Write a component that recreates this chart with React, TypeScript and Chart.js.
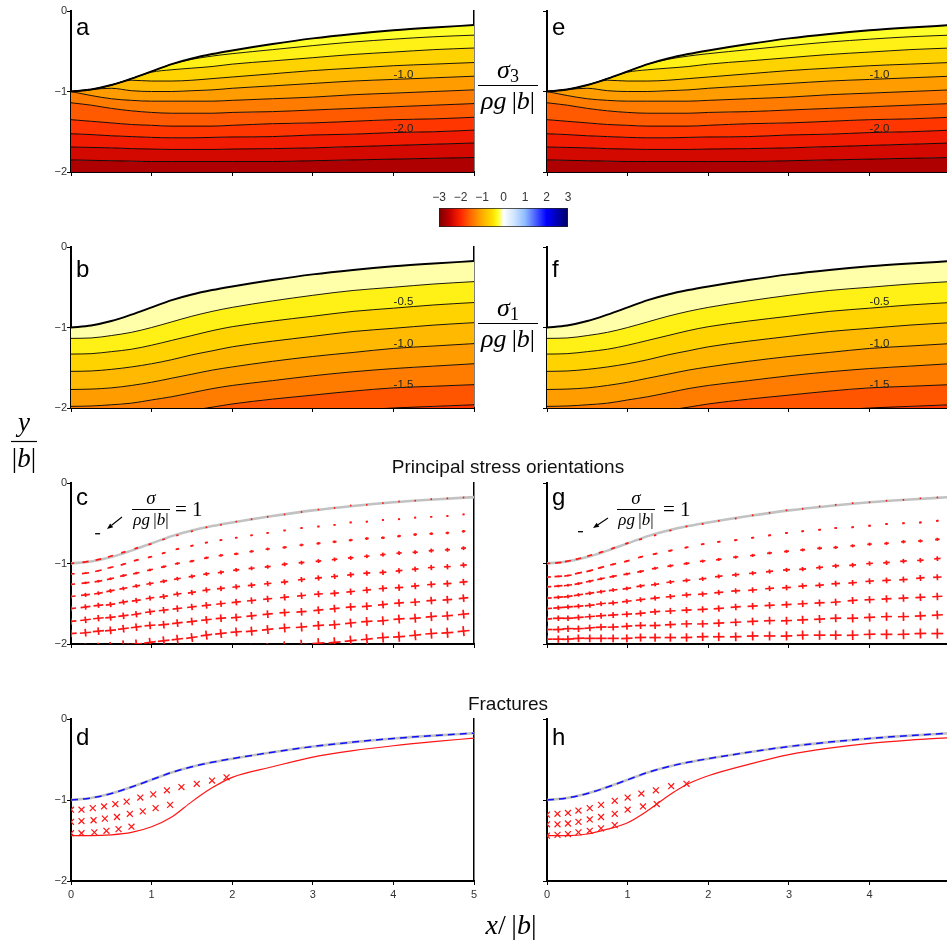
import React, { useEffect, useRef } from 'react';
import { Chart, registerables } from 'chart.js';

Chart.register(...registerables);

const SANS = '"Liberation Sans", Arial, Helvetica, sans-serif';
const SERIF = '"Liberation Serif", "Times New Roman", serif';
Chart.defaults.font.family = SANS;

// ================= DATA =================
// x sample points (x/|b|) and free surface y/|b|
const X_KNOTS = [0, 0.25, 0.5, 0.75, 1, 1.25, 1.5, 1.75, 2, 2.5, 3, 3.5, 4, 4.5, 5];
const SURFACE = [-1.0, -0.975, -0.92, -0.84, -0.75, -0.66, -0.59, -0.535, -0.49, -0.41, -0.34, -0.285, -0.24, -0.205, -0.175];

// sigma3/(rho g |b|) contour lines (panels a, e), bottom -> top, levels -2.5 ... -0.25
const SIG3_M250 = [-1.85, -1.855, -1.86, -1.865, -1.87, -1.87, -1.87, -1.87, -1.87, -1.87, -1.86, -1.85, -1.84, -1.83, -1.82];
const SIG3_M225 = [-1.69, -1.695, -1.7, -1.71, -1.715, -1.72, -1.72, -1.72, -1.715, -1.71, -1.7, -1.685, -1.67, -1.655, -1.64];
const SIG3_M200 = [-1.525, -1.535, -1.55, -1.56, -1.57, -1.575, -1.575, -1.57, -1.565, -1.56, -1.54, -1.53, -1.51, -1.5, -1.48];
const SIG3_M175 = [-1.35, -1.37, -1.39, -1.41, -1.42, -1.43, -1.43, -1.43, -1.42, -1.4, -1.39, -1.37, -1.35, -1.34, -1.32];
const SIG3_M150 = [-1.14, -1.17, -1.21, -1.24, -1.26, -1.27, -1.27, -1.27, -1.26, -1.25, -1.23, -1.21, -1.19, -1.17, -1.15];
const SIG3_M125 = [-1.0, -1.05, -1.09, -1.11, -1.12, -1.12, -1.12, -1.12, -1.11, -1.09, -1.07, -1.04, -1.02, -1.0, -0.98];
const SIG3_M100 = [-1.0, -0.975, -0.96, -0.99, -1.0, -1.0, -0.99, -0.98, -0.96, -0.93, -0.9, -0.87, -0.85, -0.83, -0.81];
const SIG3_M075 = [-1.0, -0.975, -0.92, -0.86, -0.87, -0.87, -0.86, -0.84, -0.82, -0.78, -0.74, -0.71, -0.68, -0.66, -0.64];
const SIG3_M050 = [-1.0, -0.975, -0.92, -0.84, -0.76, -0.73, -0.71, -0.69, -0.66, -0.62, -0.58, -0.54, -0.51, -0.48, -0.46];
const SIG3_M025 = [-1.0, -0.975, -0.92, -0.84, -0.75, -0.66, -0.6, -0.56, -0.53, -0.48, -0.43, -0.385, -0.35, -0.32, -0.3];
const SIG3_BANDS = [-2.65, -2.375, -2.125, -1.875, -1.625, -1.375, -1.125, -0.875, -0.625, -0.375, -0.25];

// sigma1/(rho g |b|) contour lines (panels b, f), bottom -> top, levels -1.75 ... -0.25
const SIG1_M175 = [-2.42, -2.42, -2.4, -2.38, -2.35, -2.31, -2.27, -2.23, -2.19, -2.13, -2.08, -2.03, -2.0, -1.98, -1.96];
const SIG1_M150 = [-2.2, -2.2, -2.18, -2.15, -2.12, -2.08, -2.03, -1.99, -1.95, -1.89, -1.84, -1.79, -1.75, -1.73, -1.71];
const SIG1_M125 = [-1.98, -1.975, -1.96, -1.94, -1.9, -1.86, -1.81, -1.76, -1.72, -1.66, -1.6, -1.55, -1.51, -1.48, -1.45];
const SIG1_M100 = [-1.77, -1.765, -1.75, -1.72, -1.68, -1.63, -1.58, -1.53, -1.49, -1.42, -1.36, -1.31, -1.26, -1.23, -1.2];
const SIG1_M075 = [-1.545, -1.54, -1.52, -1.49, -1.45, -1.4, -1.34, -1.29, -1.24, -1.17, -1.11, -1.05, -1.01, -0.97, -0.94];
const SIG1_M050 = [-1.33, -1.325, -1.3, -1.27, -1.22, -1.16, -1.1, -1.04, -0.99, -0.92, -0.86, -0.8, -0.76, -0.72, -0.69];
const SIG1_M025 = [-1.135, -1.13, -1.1, -1.06, -1.0, -0.93, -0.86, -0.8, -0.75, -0.67, -0.6, -0.54, -0.5, -0.46, -0.43];
const SIG1_BANDS = [-1.9, -1.66, -1.375, -1.125, -0.875, -0.625, -0.375, -0.1];

// principal stress crosses, panel c: columns, surface row, mesh rows, |sigma3|, |sigma1|
const COLS_C = [0, 0.18, 0.34, 0.49, 0.65, 0.81, 0.98, 1.15, 1.32, 1.5, 1.68, 1.86, 2.05, 2.24, 2.44, 2.65, 2.86, 3.07, 3.27, 3.47, 3.67, 3.87, 4.07, 4.27, 4.47, 4.67, 4.87];
const SURF_C = [-1, -0.98, -0.95, -0.91, -0.86, -0.81, -0.76, -0.7, -0.65, -0.6, -0.55, -0.52, -0.48, -0.45, -0.42, -0.39, -0.36, -0.33, -0.31, -0.28, -0.27, -0.25, -0.23, -0.22, -0.2, -0.19, -0.18];
const ROWS_C = [
  [-1.13, -1.12, -1.09, -1.05, -1.01, -0.96, -0.92, -0.87, -0.82, -0.78, -0.74, -0.71, -0.68, -0.65, -0.62, -0.59, -0.56, -0.54, -0.52, -0.49, -0.48, -0.46, -0.45, -0.43, -0.42, -0.41, -0.39],
  [-1.26, -1.24, -1.22, -1.19, -1.15, -1.12, -1.08, -1.04, -1.0, -0.97, -0.93, -0.9, -0.88, -0.85, -0.82, -0.8, -0.77, -0.75, -0.73, -0.71, -0.69, -0.68, -0.66, -0.64, -0.63, -0.62, -0.6],
  [-1.41, -1.39, -1.37, -1.34, -1.31, -1.28, -1.25, -1.22, -1.19, -1.16, -1.13, -1.11, -1.08, -1.06, -1.04, -1.01, -0.99, -0.97, -0.95, -0.93, -0.91, -0.89, -0.87, -0.86, -0.84, -0.83, -0.81],
  [-1.56, -1.54, -1.52, -1.51, -1.48, -1.46, -1.43, -1.41, -1.38, -1.36, -1.33, -1.31, -1.29, -1.27, -1.25, -1.23, -1.2, -1.18, -1.16, -1.14, -1.12, -1.11, -1.09, -1.07, -1.05, -1.04, -1.02],
  [-1.72, -1.7, -1.68, -1.67, -1.65, -1.63, -1.6, -1.58, -1.56, -1.54, -1.52, -1.5, -1.48, -1.46, -1.44, -1.42, -1.4, -1.38, -1.37, -1.35, -1.33, -1.31, -1.3, -1.28, -1.26, -1.25, -1.23],
  [-1.87, -1.86, -1.84, -1.83, -1.81, -1.79, -1.77, -1.76, -1.74, -1.72, -1.7, -1.68, -1.67, -1.65, -1.63, -1.61, -1.6, -1.58, -1.56, -1.54, -1.53, -1.51, -1.49, -1.48, -1.46, -1.45, -1.43],
  [-2.06, -2.05, -2.04, -2.03, -2.01, -2.0, -1.98, -1.96, -1.94, -1.92, -1.89, -1.87, -1.85, -1.84, -1.82, -1.8, -1.79, -1.77, -1.76, -1.74, -1.72, -1.71, -1.69, -1.68, -1.66, -1.65, -1.63],
  [-2.25, -2.24, -2.23, -2.22, -2.21, -2.2, -2.18, -2.17, -2.15, -2.13, -2.11, -2.09, -2.08, -2.06, -2.05, -2.03, -2.01, -1.99, -1.98, -1.96, -1.94, -1.92, -1.91, -1.89, -1.87, -1.86, -1.84],
];
const SIG3_C = [
  [1.3, 1.24, 1.14, 1.03, 0.89, 0.76, 0.64, 0.53, 0.45, 0.4, 0.36, 0.34, 0.32, 0.31, 0.3, 0.3, 0.3, 0.3, 0.3, 0.3, 0.3, 0.3, 0.3, 0.3, 0.3, 0.3, 0.3],
  [1.48, 1.43, 1.34, 1.24, 1.12, 1.01, 0.9, 0.8, 0.73, 0.66, 0.61, 0.57, 0.53, 0.5, 0.48, 0.46, 0.45, 0.44, 0.43, 0.42, 0.42, 0.41, 0.41, 0.4, 0.4, 0.39, 0.39],
  [1.64, 1.6, 1.53, 1.45, 1.36, 1.27, 1.18, 1.1, 1.04, 0.99, 0.95, 0.92, 0.89, 0.87, 0.86, 0.84, 0.82, 0.8, 0.78, 0.77, 0.76, 0.75, 0.74, 0.73, 0.72, 0.71, 0.7],
  [1.82, 1.79, 1.74, 1.68, 1.61, 1.54, 1.47, 1.41, 1.36, 1.32, 1.28, 1.25, 1.23, 1.21, 1.19, 1.17, 1.15, 1.13, 1.11, 1.09, 1.08, 1.06, 1.05, 1.04, 1.02, 1.01, 1.0],
  [2.0, 1.97, 1.94, 1.9, 1.85, 1.8, 1.75, 1.7, 1.66, 1.62, 1.59, 1.56, 1.53, 1.51, 1.49, 1.47, 1.45, 1.43, 1.41, 1.4, 1.38, 1.37, 1.35, 1.34, 1.33, 1.32, 1.31],
  [2.15, 2.13, 2.11, 2.09, 2.06, 2.03, 2.0, 1.97, 1.94, 1.92, 1.9, 1.88, 1.86, 1.84, 1.82, 1.8, 1.78, 1.76, 1.74, 1.72, 1.7, 1.69, 1.67, 1.66, 1.65, 1.63, 1.62],
  [2.25, 2.24, 2.23, 2.22, 2.2, 2.19, 2.17, 2.16, 2.14, 2.13, 2.11, 2.1, 2.08, 2.07, 2.05, 2.04, 2.03, 2.02, 2.01, 2.0, 1.99, 1.98, 1.97, 1.95, 1.94, 1.93, 1.92],
  [2.35, 2.35, 2.34, 2.34, 2.33, 2.33, 2.32, 2.32, 2.31, 2.31, 2.3, 2.3, 2.29, 2.29, 2.28, 2.28, 2.27, 2.27, 2.26, 2.26, 2.25, 2.25, 2.24, 2.24, 2.23, 2.23, 2.22],
  [2.45, 2.45, 2.45, 2.45, 2.45, 2.44, 2.44, 2.44, 2.44, 2.44, 2.43, 2.43, 2.43, 2.43, 2.42, 2.42, 2.42, 2.42, 2.41, 2.41, 2.41, 2.4, 2.4, 2.4, 2.4, 2.39, 2.39],
];
const SIG1_C = [0, 0.3, 0.52, 0.78, 1.04, 1.29, 1.53, 1.79, 2.04];

// principal stress crosses, panel g
const COLS_G = [0, 0.14, 0.26, 0.39, 0.53, 0.67, 0.82, 0.99, 1.16, 1.34, 1.53, 1.73, 1.93, 2.13, 2.34, 2.55, 2.76, 2.97, 3.17, 3.38, 3.58, 3.79, 4.0, 4.21, 4.42, 4.63, 4.84];
const SURF_G = [-1, -0.99, -0.97, -0.94, -0.9, -0.86, -0.81, -0.75, -0.7, -0.65, -0.59, -0.54, -0.51, -0.47, -0.44, -0.4, -0.37, -0.34, -0.32, -0.29, -0.27, -0.25, -0.24, -0.22, -0.21, -0.19, -0.18];
const ROWS_G = [
  [-1.17, -1.16, -1.15, -1.12, -1.09, -1.05, -1.01, -0.97, -0.92, -0.88, -0.84, -0.8, -0.76, -0.73, -0.71, -0.68, -0.65, -0.62, -0.6, -0.58, -0.56, -0.55, -0.53, -0.51, -0.5, -0.49, -0.47],
  [-1.29, -1.28, -1.27, -1.25, -1.22, -1.19, -1.16, -1.13, -1.1, -1.06, -1.03, -1.0, -0.97, -0.95, -0.92, -0.9, -0.87, -0.85, -0.83, -0.81, -0.8, -0.78, -0.76, -0.75, -0.73, -0.72, -0.7],
  [-1.43, -1.42, -1.41, -1.39, -1.37, -1.35, -1.33, -1.31, -1.28, -1.26, -1.23, -1.21, -1.19, -1.16, -1.14, -1.12, -1.1, -1.08, -1.07, -1.05, -1.03, -1.02, -1.0, -0.99, -0.97, -0.96, -0.94],
  [-1.56, -1.55, -1.54, -1.53, -1.52, -1.5, -1.49, -1.47, -1.45, -1.43, -1.41, -1.39, -1.38, -1.36, -1.34, -1.33, -1.31, -1.3, -1.28, -1.27, -1.25, -1.24, -1.22, -1.21, -1.2, -1.18, -1.17],
  [-1.69, -1.68, -1.68, -1.67, -1.66, -1.65, -1.64, -1.63, -1.62, -1.6, -1.59, -1.58, -1.57, -1.56, -1.54, -1.53, -1.52, -1.51, -1.5, -1.49, -1.48, -1.46, -1.45, -1.44, -1.43, -1.42, -1.41],
  [-1.82, -1.82, -1.81, -1.81, -1.8, -1.79, -1.79, -1.78, -1.77, -1.77, -1.76, -1.75, -1.75, -1.74, -1.73, -1.72, -1.71, -1.71, -1.7, -1.69, -1.68, -1.68, -1.67, -1.66, -1.66, -1.65, -1.64],
  [-1.94, -1.94, -1.94, -1.93, -1.93, -1.93, -1.93, -1.93, -1.92, -1.92, -1.92, -1.92, -1.91, -1.91, -1.91, -1.9, -1.9, -1.9, -1.89, -1.89, -1.89, -1.89, -1.88, -1.88, -1.88, -1.87, -1.87],
];
const SIG3_G = [
  [1.3, 1.26, 1.2, 1.12, 1.02, 0.92, 0.81, 0.7, 0.6, 0.5, 0.44, 0.4, 0.36, 0.34, 0.32, 0.31, 0.3, 0.3, 0.3, 0.3, 0.3, 0.3, 0.3, 0.3, 0.3, 0.3, 0.3],
  [1.55, 1.52, 1.48, 1.43, 1.37, 1.3, 1.22, 1.13, 1.04, 0.95, 0.87, 0.8, 0.74, 0.69, 0.65, 0.62, 0.59, 0.57, 0.55, 0.54, 0.53, 0.52, 0.52, 0.51, 0.51, 0.5, 0.5],
  [1.7, 1.68, 1.65, 1.61, 1.57, 1.52, 1.46, 1.4, 1.34, 1.28, 1.22, 1.17, 1.12, 1.08, 1.05, 1.02, 1.0, 0.98, 0.96, 0.95, 0.94, 0.93, 0.92, 0.91, 0.91, 0.9, 0.9],
  [1.88, 1.87, 1.85, 1.83, 1.8, 1.77, 1.74, 1.7, 1.66, 1.62, 1.58, 1.54, 1.51, 1.48, 1.45, 1.43, 1.41, 1.39, 1.37, 1.36, 1.35, 1.34, 1.33, 1.32, 1.31, 1.3, 1.3],
  [2.0, 1.99, 1.98, 1.97, 1.96, 1.95, 1.93, 1.92, 1.9, 1.88, 1.86, 1.84, 1.82, 1.8, 1.79, 1.77, 1.76, 1.75, 1.74, 1.73, 1.72, 1.71, 1.7, 1.7, 1.69, 1.69, 1.68],
  [2.1, 2.1, 2.09, 2.09, 2.08, 2.08, 2.07, 2.07, 2.06, 2.06, 2.05, 2.05, 2.04, 2.04, 2.03, 2.03, 2.03, 2.02, 2.02, 2.02, 2.01, 2.01, 2.01, 2.0, 2.0, 2.0, 2.0],
  [2.18, 2.18, 2.18, 2.18, 2.18, 2.18, 2.18, 2.18, 2.18, 2.19, 2.19, 2.19, 2.19, 2.19, 2.19, 2.2, 2.2, 2.2, 2.2, 2.2, 2.2, 2.21, 2.21, 2.21, 2.21, 2.21, 2.22],
  [2.25, 2.25, 2.25, 2.26, 2.26, 2.26, 2.27, 2.27, 2.28, 2.28, 2.29, 2.29, 2.3, 2.3, 2.31, 2.31, 2.32, 2.32, 2.33, 2.33, 2.34, 2.34, 2.35, 2.35, 2.36, 2.36, 2.37],
];
const SIG1_G = [
  0,
  0.36,
  [0.54, 0.54, 0.54, 0.55, 0.55, 0.55, 0.56, 0.56, 0.56, 0.58, 0.58, 0.58, 0.59, 0.59, 0.59, 0.6, 0.6, 0.6, 0.61, 0.61, 0.61, 0.62, 0.62, 0.62, 0.64, 0.64, 0.64],
  [0.72, 0.73, 0.73, 0.74, 0.76, 0.76, 0.77, 0.78, 0.78, 0.79, 0.8, 0.8, 0.82, 0.83, 0.83, 0.84, 0.85, 0.85, 0.86, 0.88, 0.88, 0.89, 0.9, 0.9, 0.91, 0.92, 0.92],
  [0.9, 0.91, 0.92, 0.94, 0.95, 0.96, 0.97, 0.98, 1.0, 1.01, 1.02, 1.03, 1.04, 1.06, 1.06, 1.07, 1.08, 1.09, 1.1, 1.12, 1.13, 1.14, 1.15, 1.16, 1.18, 1.19, 1.2],
  [1.08, 1.09, 1.12, 1.13, 1.14, 1.16, 1.18, 1.19, 1.2, 1.22, 1.24, 1.25, 1.27, 1.28, 1.3, 1.31, 1.33, 1.34, 1.36, 1.38, 1.39, 1.4, 1.43, 1.44, 1.45, 1.48, 1.49],
  [1.26, 1.28, 1.3, 1.32, 1.33, 1.36, 1.38, 1.39, 1.42, 1.44, 1.45, 1.48, 1.49, 1.51, 1.54, 1.55, 1.57, 1.6, 1.61, 1.63, 1.64, 1.67, 1.69, 1.7, 1.73, 1.74, 1.76],
  [1.44, 1.46, 1.49, 1.51, 1.54, 1.56, 1.58, 1.6, 1.62, 1.64, 1.67, 1.69, 1.72, 1.74, 1.76, 1.79, 1.81, 1.84, 1.86, 1.88, 1.9, 1.92, 1.94, 1.97, 1.99, 2.02, 2.04],
];
// reference stress for the legend dash: sigma/(rho g |b|) = 1
const LEGEND_SIGMA = 1;

// fractures: lower limit of the fracture zone (d, h) and fracture marks
const FRAC_LIMIT_D = [-1.44, -1.44, -1.43, -1.4, -1.33, -1.21, -1.02, -0.85, -0.72, -0.59, -0.47, -0.39, -0.33, -0.28, -0.235];
const FRAC_LIMIT_H = [-1.44, -1.44, -1.42, -1.36, -1.28, -1.13, -0.95, -0.8, -0.7, -0.56, -0.44, -0.36, -0.3, -0.26, -0.23];
const FRAC_D_ROW1 = [[0, -1.12], [0.13, -1.12], [0.27, -1.1], [0.41, -1.08], [0.55, -1.05], [0.69, -1.02], [0.86, -0.97], [1.02, -0.93], [1.19, -0.88], [1.37, -0.84], [1.56, -0.8], [1.75, -0.76], [1.93, -0.72]];
const FRAC_D_ROW2 = [[0, -1.27], [0.13, -1.26], [0.28, -1.25], [0.42, -1.23], [0.57, -1.21], [0.73, -1.17], [0.89, -1.14], [1.05, -1.1], [1.23, -1.06]];
const FRAC_D_ROW3 = [[0, -1.41], [0.13, -1.41], [0.29, -1.4], [0.44, -1.38], [0.59, -1.36], [0.75, -1.33]];
const FRAC_H_ROW1 = [[0, -1.18], [0.13, -1.17], [0.26, -1.16], [0.39, -1.13], [0.53, -1.1], [0.67, -1.06], [0.84, -1.01], [1.0, -0.97], [1.17, -0.92], [1.35, -0.88], [1.54, -0.83], [1.73, -0.8]];
const FRAC_H_ROW2 = [[0, -1.3], [0.13, -1.3], [0.26, -1.29], [0.39, -1.27], [0.53, -1.24], [0.67, -1.21], [0.84, -1.17], [1.0, -1.12], [1.19, -1.08], [1.36, -1.05]];
const FRAC_H_ROW3 = [[0, -1.44], [0.13, -1.43], [0.26, -1.42], [0.39, -1.4], [0.53, -1.38], [0.67, -1.35], [0.84, -1.31]];

// colour bar
const CB_TICKS = [-3, -2, -1, 0, 1, 2, 3];

// ================= STYLE =================
const CMAP_V = [-3, -2.5, -2, -1.5, -1, -0.5, -0.25, 0, 0.5, 1, 2, 3];
const CMAP_C = ['#7a0000', '#c40000', '#ff2400', '#ff6c00', '#ffac00', '#ffe000', '#ffff2a', '#ffffff', '#cfe5ff', '#8fbcff', '#0000ff', '#000066'];
const CROSS_PX = 5; // px per unit of sigma/(rho g |b|)
const RED = '#ff1414';

function hexToRgb(h: string) {
  const n = parseInt(h.slice(1), 16);
  return [(n >> 16) & 255, (n >> 8) & 255, n & 255];
}
function colorAt(v: number) {
  const cs = CMAP_C.map(hexToRgb);
  if (v <= CMAP_V[0]) return CMAP_C[0];
  for (let i = 0; i < CMAP_V.length - 1; i++) {
    if (v <= CMAP_V[i + 1]) {
      const t = (v - CMAP_V[i]) / (CMAP_V[i + 1] - CMAP_V[i]);
      const c = cs[i].map((a, k) => Math.round(a + (cs[i + 1][k] - a) * t));
      return `rgb(${c[0]},${c[1]},${c[2]})`;
    }
  }
  return CMAP_C[CMAP_C.length - 1];
}
const minusFmt = (v: number) => (v < 0 ? '\u2212' + Math.abs(v) : String(v));

const knotData = (ys: number[]) => X_KNOTS.map((x, i) => ({ x, y: ys[i] }));

function fieldDatasets(levels: number[][], bands: number[]) {
  const lines = [...levels, SURFACE];
  return lines.map((ys, i) => ({
    data: knotData(ys),
    borderColor: '#000',
    borderWidth: i === lines.length - 1 ? 2 : 0.9,
    pointRadius: 0,
    cubicInterpolationMode: 'monotone',
    fill: i === 0 ? 'start' : '-1',
    backgroundColor: colorAt(bands[i]),
  }));
}

function pointDs(data: any[], color: string, width = 1.7) {
  return {
    data,
    showLine: false,
    pointStyle: 'line',
    pointRadius: (c: any) => (c.raw ? c.raw.r : 0),
    pointRotation: (c: any) => (c.raw ? c.raw.rot : 0),
    pointBorderColor: color,
    pointBackgroundColor: color,
    pointBorderWidth: width,
    borderWidth: 0,
    fill: false,
  };
}

function crossDatasets(cols: number[], rows: number[][], sig3: number[][], sig1: any[]) {
  const out: any[] = [];
  rows.forEach((ys, r) => {
    const along: any[] = [];
    const across: any[] = [];
    cols.forEach((x, c) => {
      const c0 = Math.max(0, c - 1);
      const c1 = Math.min(cols.length - 1, c + 1);
      const ang = (Math.atan2(ys[c1] - ys[c0], cols[c1] - cols[c0]) * 180) / Math.PI;
      const s1 = Array.isArray(sig1[r]) ? sig1[r][c] : sig1[r];
      along.push({ x, y: ys[c], r: (sig3[r][c] * CROSS_PX) / 2, rot: -ang });
      across.push({ x, y: ys[c], r: (s1 * CROSS_PX) / 2, rot: 90 - ang });
    });
    out.push(pointDs(along, RED), pointDs(across, RED));
  });
  return out;
}

const graySurface = () => ({
  data: knotData(SURFACE), borderColor: '#c2c2c2', borderWidth: 2.6, pointRadius: 0,
  cubicInterpolationMode: 'monotone', fill: false,
});

function stressDatasets(cols: number[], surf: number[], rows: number[][], sig3: number[][], sig1: any[], lx: number, ly: number) {
  return [
    ...crossDatasets(cols, [surf, ...rows], sig3, sig1),
    { ...pointDs([{ x: lx, y: ly, r: (LEGEND_SIGMA * CROSS_PX) / 2, rot: 0 }], '#000', 1.3), clip: false },
    graySurface(),
  ];
}

function fractureDatasets(limit: number[], rowsXY: number[][][]) {
  return [
    ...rowsXY.map((row) => ({
      data: row.map(([x, y]) => ({ x, y })),
      showLine: false, pointStyle: 'crossRot', pointRadius: 4.2, pointBorderColor: RED,
      pointBorderWidth: 1.2, borderWidth: 0, fill: false,
    })),
    { data: knotData(limit), borderColor: RED, borderWidth: 1.2, pointRadius: 0, cubicInterpolationMode: 'monotone', fill: false },
    { data: knotData(SURFACE), borderColor: '#1010ff', borderWidth: 1.5, borderDash: [7, 5], pointRadius: 0, cubicInterpolationMode: 'monotone', fill: false },
    graySurface(),
  ];
}

// ================= LAYOUT =================
const YW = 40;
const PT = 8;
const PR = 8;
const COLS = [
  { plotLeft: 71, plotW: 403, xMax: 5, yLabels: true, rightBorder: true },
  { plotLeft: 547, plotW: 400, xMax: 4.96, yLabels: false, rightBorder: false },
];
const ROW_TOP = [11, 247, 483, 719];
const ROW_H = [161, 161, 161, 162];

function panelConfig(col: any, row: number, datasets: any[]) {
  const xLabels = row === 3;
  const grid = { display: true, drawOnChartArea: false, drawTicks: true, tickLength: 4, color: '#000', lineWidth: 1 };
  const border = { display: true, color: '#000', width: 2 };
  const font = { family: SANS, size: 11 };
  const scales: any = {
    x: {
      type: 'linear', min: 0, max: col.xMax, position: 'bottom',
      ticks: { stepSize: 1, includeBounds: false, display: xLabels, font, color: '#333', padding: 3, maxRotation: 0, autoSkip: false },
      grid, border,
      afterFit: (s: any) => { s.height = xLabels ? 26 : 10; },
    },
    y: {
      type: 'linear', min: -2, max: 0, position: 'left',
      ticks: { stepSize: 1, includeBounds: false, display: col.yLabels, font, color: '#333', padding: 0, callback: (v: any) => minusFmt(Number(v)) },
      grid, border,
      afterFit: (s: any) => { s.width = YW; },
    },
  };
  if (col.rightBorder) {
    scales.y2 = {
      type: 'linear', min: -2, max: 0, position: 'right',
      ticks: { display: false }, grid: { display: false },
      border: { display: true, color: '#000', width: 1.5 },
      afterFit: (s: any) => { s.width = 0; },
    };
  }
  return {
    type: 'line',
    data: { datasets },
    options: {
      responsive: false, animation: false, events: [], devicePixelRatio: 1,
      layout: { padding: { top: PT, right: PR, left: 0, bottom: 0 } },
      plugins: { legend: { display: false }, tooltip: { enabled: false }, filler: { drawTime: 'beforeDatasetsDraw' } },
      scales,
    },
  };
}

function ChartBox({ left, top, width, height, make }: any) {
  const ref = useRef<HTMLCanvasElement>(null);
  useEffect(() => {
    const chart = new Chart(ref.current as HTMLCanvasElement, make());
    return () => chart.destroy();
  }, []);
  return <canvas ref={ref} width={width} height={height} style={{ position: 'absolute', left, top, width, height }} />;
}

function Panel({ c, r, make }: any) {
  const col = COLS[c];
  const hx = r === 3 ? 26 : 10;
  return (
    <ChartBox
      left={col.plotLeft - YW}
      top={ROW_TOP[r] - PT}
      width={YW + col.plotW + PR}
      height={PT + ROW_H[r] + hx}
      make={() => panelConfig(col, r, make(c))}
    />
  );
}

function colorbarConfig() {
  return {
    type: 'bar',
    data: {
      labels: ['cb'],
      datasets: [{
        data: [[CB_TICKS[0], CB_TICKS[CB_TICKS.length - 1]]],
        backgroundColor: (ctx: any) => {
          const ca = ctx.chart.chartArea;
          if (!ca) return 'transparent';
          const g = ctx.chart.ctx.createLinearGradient(ca.left, 0, ca.right, 0);
          CMAP_V.forEach((v, i) => g.addColorStop((v - CMAP_V[0]) / (CMAP_V[CMAP_V.length - 1] - CMAP_V[0]), CMAP_C[i]));
          return g;
        },
        borderColor: '#222', borderWidth: 1, borderSkipped: false, barPercentage: 1, categoryPercentage: 1,
      }],
    },
    options: {
      indexAxis: 'y', responsive: false, animation: false, events: [], devicePixelRatio: 1,
      layout: { padding: { left: 14, right: 17, top: 0, bottom: 3 } },
      plugins: { legend: { display: false }, tooltip: { enabled: false } },
      scales: {
        x: {
          type: 'linear', min: -3, max: 3, position: 'top',
          afterBuildTicks: (s: any) => { s.ticks = CB_TICKS.map((v) => ({ value: v })); },
          ticks: { font: { family: SANS, size: 12 }, color: '#333', padding: 3, maxRotation: 0, callback: (v: any) => minusFmt(Number(v)) },
          grid: { display: true, drawOnChartArea: false, drawTicks: false },
          border: { display: false },
          afterFit: (s: any) => { s.height = 23; },
        },
        y: { display: false },
      },
    },
  };
}

function Arrow({ x1, y1, x2, y2 }: any) {
  const dx = x2 - x1, dy = y2 - y1;
  const L = Math.hypot(dx, dy);
  const ux = dx / L, uy = dy / L;
  const bx = x2 - 6 * ux, by = y2 - 6 * uy;
  const nx = -uy, ny = ux;
  const pts = `${x2},${y2} ${bx + 2.4 * nx},${by + 2.4 * ny} ${bx - 2.4 * nx},${by - 2.4 * ny}`;
  return (
    <g>
      <line x1={x1} y1={y1} x2={bx} y2={by} stroke="#000" strokeWidth={1.1} />
      <polygon points={pts} fill="#000" />
    </g>
  );
}

function Overlay() {
  const letters: [string, number, number][] = [
    ['a', 76, 35], ['e', 552, 35], ['b', 76, 277], ['f', 552, 277],
    ['c', 76, 505], ['g', 552, 505], ['d', 76, 745], ['h', 552, 745],
  ];
  const cl = { fontFamily: SANS, fontSize: 11.5, fill: '#222', textAnchor: 'middle' as const };
  const legend = (dx: number) => (
    <g>
      <text x={151 + dx} y={504} fontFamily={SERIF} fontSize={19} textAnchor="middle"><tspan fontStyle="italic">σ</tspan></text>
      <line x1={132 + dx} x2={170 + dx} y1={509.5} y2={509.5} stroke="#000" strokeWidth={1} />
      <text x={151 + dx} y={525} fontFamily={SERIF} fontSize={17} textAnchor="middle">
        <tspan fontStyle="italic">ρg</tspan><tspan>{'\u2009|'}</tspan><tspan fontStyle="italic">b</tspan><tspan>|</tspan>
      </text>
      <text x={175 + dx + (dx ? 3 : 0)} y={516} fontFamily={SERIF} fontSize={21}>= 1</text>
    </g>
  );
  return (
    <svg width={947} height={943} style={{ position: 'absolute', left: 0, top: 0, pointerEvents: 'none' }}>
      {letters.map(([t, x, y]) => (
        <text key={t} x={x} y={y} fontFamily={SANS} fontSize={24} fill="#000">{t}</text>
      ))}
      {[0, 476].map((dx) => (
        <g key={'cl' + dx}>
          <text x={403.5 + dx} y={78} {...cl}>-1.0</text>
          <text x={403.5 + dx} y={132} {...cl}>-2.0</text>
          <text x={403.5 + dx} y={305} {...cl}>-0.5</text>
          <text x={403.5 + dx} y={347} {...cl}>-1.0</text>
          <text x={403.5 + dx} y={388} {...cl}>-1.5</text>
        </g>
      ))}
      <text x={508} y={78} fontFamily={SERIF} fontSize={26} textAnchor="middle">
        <tspan fontStyle="italic">σ</tspan><tspan fontSize={18} dy={4}>3</tspan>
      </text>
      <line x1={478} x2={538} y1={85.5} y2={85.5} stroke="#000" strokeWidth={1.2} />
      <text x={508} y={109} fontFamily={SERIF} fontSize={26} textAnchor="middle">
        <tspan fontStyle="italic">ρg</tspan><tspan>{'\u2009|'}</tspan><tspan fontStyle="italic">b</tspan><tspan>|</tspan>
      </text>
      <text x={508} y={316} fontFamily={SERIF} fontSize={26} textAnchor="middle">
        <tspan fontStyle="italic">σ</tspan><tspan fontSize={18} dy={4}>1</tspan>
      </text>
      <line x1={478} x2={538} y1={323.5} y2={323.5} stroke="#000" strokeWidth={1.2} />
      <text x={508} y={347} fontFamily={SERIF} fontSize={26} textAnchor="middle">
        <tspan fontStyle="italic">ρg</tspan><tspan>{'\u2009|'}</tspan><tspan fontStyle="italic">b</tspan><tspan>|</tspan>
      </text>
      <text x={508} y={473} fontFamily={SANS} fontSize={19} textAnchor="middle" fill="#111">Principal stress orientations</text>
      <text x={508} y={710} fontFamily={SANS} fontSize={19} textAnchor="middle" fill="#111">Fractures</text>
      {legend(0)}
      {legend(485)}
      <Arrow x1={122} y1={517} x2={107} y2={529} />
      <Arrow x1={608} y1={518} x2={593} y2={528} />
      <text x={24} y={431} fontFamily={SERIF} fontSize={27} textAnchor="middle"><tspan fontStyle="italic">y</tspan></text>
      <line x1={11} x2={37} y1={441.5} y2={441.5} stroke="#000" strokeWidth={1.2} />
      <text x={24} y={467} fontFamily={SERIF} fontSize={27} textAnchor="middle">|<tspan fontStyle="italic">b</tspan>|</text>
      <text x={511} y={934} fontFamily={SERIF} fontSize={28} textAnchor="middle">
        <tspan fontStyle="italic">x</tspan><tspan>{'/\u2009|'}</tspan><tspan fontStyle="italic">b</tspan><tspan>|</tspan>
      </text>
    </svg>
  );
}

const fieldA = () => fieldDatasets([SIG3_M250, SIG3_M225, SIG3_M200, SIG3_M175, SIG3_M150, SIG3_M125, SIG3_M100, SIG3_M075, SIG3_M050, SIG3_M025], SIG3_BANDS);
const fieldB = () => fieldDatasets([SIG1_M175, SIG1_M150, SIG1_M125, SIG1_M100, SIG1_M075, SIG1_M050, SIG1_M025], SIG1_BANDS);
const stressC = (c: number) => (c === 0
  ? stressDatasets(COLS_C, SURF_C, ROWS_C, SIG3_C, SIG1_C, 0.33, -0.63)
  : stressDatasets(COLS_G, SURF_G, ROWS_G, SIG3_G, SIG1_G, 0.415, -0.605));
const fracD = (c: number) => (c === 0
  ? fractureDatasets(FRAC_LIMIT_D, [FRAC_D_ROW1, FRAC_D_ROW2, FRAC_D_ROW3])
  : fractureDatasets(FRAC_LIMIT_H, [FRAC_H_ROW1, FRAC_H_ROW2, FRAC_H_ROW3]));

export default function App() {
  return (
    <div style={{ position: 'absolute', left: 0, top: 0, width: 947, height: 943, overflow: 'hidden', background: '#fff' }}>
      {[0, 1].map((c) => (
        <React.Fragment key={c}>
          <Panel c={c} r={0} make={fieldA} />
          <Panel c={c} r={1} make={fieldB} />
          <Panel c={c} r={2} make={stressC} />
          <Panel c={c} r={3} make={fracD} />
        </React.Fragment>
      ))}
      <ChartBox left={425} top={185} width={160} height={45} make={colorbarConfig} />
      <Overlay />
    </div>
  );
}
